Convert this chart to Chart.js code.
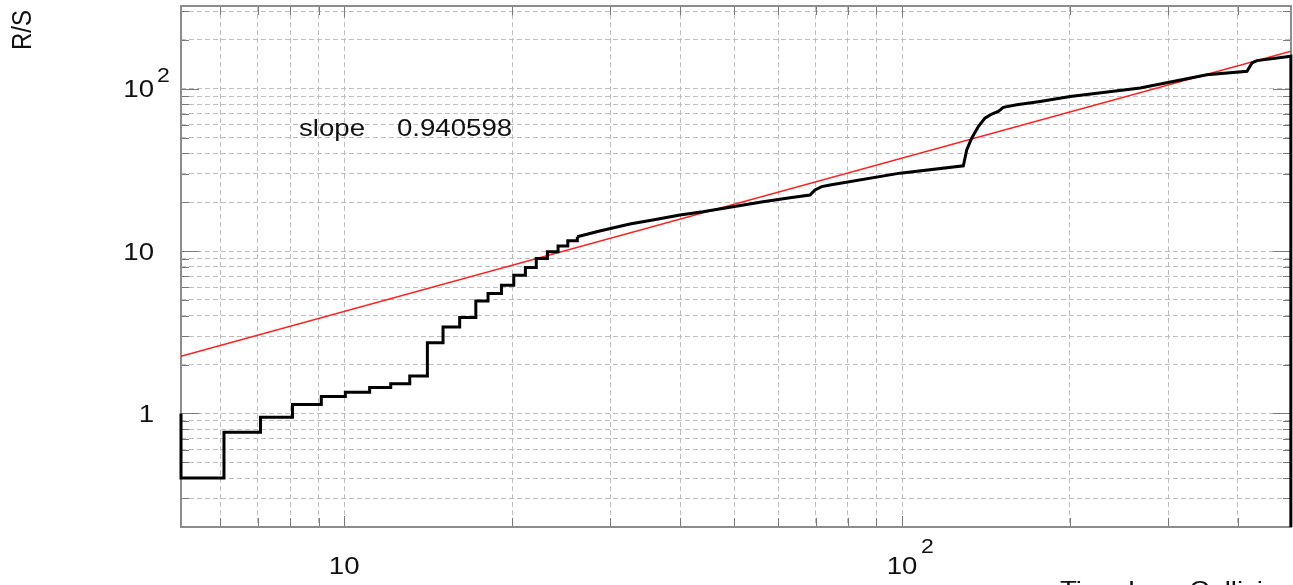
<!DOCTYPE html>
<html>
<head>
<meta charset="utf-8">
<script src="https://cdn.jsdelivr.net/npm/chart.js@4.4.1/dist/chart.umd.min.js"></script>
<style>
  html, body { margin: 0; padding: 0; background: #fff; }
  #wrap { width: 1293px; height: 585px; position: relative; }
</style>
</head>
<body>
<div id="wrap"><canvas id="rs"></canvas></div>
<script>
// R/S escalonado (lags pequeños)
const stepLag = [5.10, 5.10, 6.09, 7.08, 8.08, 9.10, 10.05, 11.11, 12.12, 13.11, 14.1, 15.04, 16.11, 17.22, 18.11, 19.14, 20.14, 21.13, 22.1, 23.14, 24.18, 25.17, 26.18];
const stepRS = [1.0, 0.40, 0.767, 0.949, 1.137, 1.273, 1.353, 1.447, 1.525, 1.70, 2.73, 3.41, 3.90, 4.93, 5.48, 6.17, 7.11, 7.93, 8.99, 9.90, 10.74, 11.57, 12.26];

// R/S continuo (lags grandes)
const curveLag = [26.18, 28.35, 30.15, 32.52, 35.75, 39.98, 43.95, 49.76, 56.33, 62.98, 68.39, 69.82, 71.78, 74.29, 99.2, 128.8, 130.6, 133.3, 137.0, 140.8, 144.8, 148.8, 151.9, 160.6, 176.8, 200.2, 267.3, 352.0, 415.3, 424.0, 432.8, 497.7, 497.7];
const curveRS = [12.26, 13.15, 13.81, 14.68, 15.54, 16.68, 17.48, 18.77, 20.15, 21.33, 22.16, 23.80, 24.94, 25.55, 30.2, 33.5, 42.0, 49.6, 58.5, 65.9, 69.8, 72.4, 76.7, 79.6, 83.5, 89.6, 101.0, 122.0, 127.9, 144.1, 148.9, 158.3, 0.1];

// recta de ajuste
const fitLag = [5.10, 498];
const fitRS = [2.25, 170];
const slopeLabel = 'slope';
const slopeValue = '0.940598';

// ejes
const xTicks = [6, 7, 8, 9, 10, 20, 30, 40, 50, 60, 70, 80, 90, 100, 200, 300, 400];
const yTicks = [0.3, 0.4, 0.5, 0.6, 0.7, 0.8, 0.9, 1, 2, 3, 4, 5, 6, 7, 8, 9, 10, 20, 30, 40, 50, 60, 70, 80, 90, 100, 200, 300];
const xMajor = [10, 100];
const yMajor = [1, 10, 100];
const xLabelVals = [10, 100];
const xLabelBase = ['10', '10'];
const xLabelExp = ['', '2'];
const yLabelVals = [1, 10, 100];
const yLabelBase = ['1', '10', '10'];
const yLabelExp = ['', '', '2'];
const xTitle = 'Time Lag  Collisions';
const yTitle = 'R/S';

const toPts = (xs, ys) => xs.map((x, i) => ({ x: x, y: ys[i] }));

const FONT = '"Liberation Sans", Arial, sans-serif';
const SX = 1.15; // texto algo ensanchado

function drawText(ctx, txt, x, y, align, size, rot) {
  ctx.save();
  ctx.translate(x, y);
  ctx.scale(SX, 1);
  if (rot) ctx.rotate(rot);
  ctx.font = size + 'px ' + FONT;
  ctx.fillStyle = '#111';
  ctx.textAlign = align;
  ctx.textBaseline = 'middle';
  ctx.fillText(txt, 0, 0);
  ctx.restore();
}

// marco, marcas interiores y textos
const framePlugin = {
  id: 'frame',
  beforeDatasetsDraw(chart) {
    const { ctx, chartArea: a, scales } = chart;
    ctx.save();
    ctx.strokeStyle = '#7a7a7a';
    ctx.lineWidth = 1;
    ctx.beginPath();
    xTicks.forEach(v => {
      const px = Math.round(scales.x.getPixelForValue(v)) + 0.5;
      const len = xMajor.includes(v) ? 11 : 9;
      ctx.moveTo(px, a.bottom); ctx.lineTo(px, a.bottom - len);
      ctx.moveTo(px, a.top); ctx.lineTo(px, a.top + len);
    });
    yTicks.forEach(v => {
      const py = Math.round(scales.y.getPixelForValue(v)) + 0.5;
      const len = yMajor.includes(v) ? 18 : 8;
      ctx.moveTo(a.left, py); ctx.lineTo(a.left + len, py);
      ctx.moveTo(a.right, py); ctx.lineTo(a.right - len, py);
    });
    ctx.stroke();
    ctx.strokeStyle = '#8c8c8c';
    ctx.lineWidth = 2;
    ctx.strokeRect(a.left, a.top, a.right - a.left, a.bottom - a.top);
    ctx.restore();
  },
  afterDraw(chart) {
    const { ctx, scales } = chart;
    yLabelVals.forEach((v, i) => {
      const py = scales.y.getPixelForValue(v) + 2;
      drawText(ctx, yLabelBase[i], 154, py, 'right', 24);
      if (yLabelExp[i]) drawText(ctx, yLabelExp[i], 157, py - 14, 'left', 20);
    });
    xLabelVals.forEach((v, i) => {
      const px = scales.x.getPixelForValue(v);
      drawText(ctx, xLabelBase[i], px, 567, 'center', 24);
      if (xLabelExp[i]) drawText(ctx, xLabelExp[i], px + 19, 547, 'left', 20);
    });
    drawText(ctx, yTitle, 23, 30, 'center', 24, -Math.PI / 2);
    drawText(ctx, xTitle, 1060, 591, 'left', 24);
    drawText(ctx, slopeLabel, 299, 129, 'left', 24);
    drawText(ctx, slopeValue, 397, 129, 'left', 24);
  }
};

const gridOpts = { color: '#bdbdbd', lineWidth: 1, drawTicks: false };

new Chart(document.getElementById('rs'), {
  type: 'line',
  data: {
    datasets: [
      {
        label: 'R/S',
        data: toPts(stepLag, stepRS),
        stepped: 'before',
        borderColor: '#000',
        borderWidth: 3,
        pointRadius: 0,
        clip: { left: 3, top: 0, right: 3, bottom: 0 }
      },
      {
        label: 'R/S cont',
        data: toPts(curveLag, curveRS),
        borderColor: '#000',
        borderWidth: 3,
        pointRadius: 0,
        tension: 0,
        clip: { left: 3, top: 0, right: 3, bottom: 0 }
      },
      {
        label: 'ajuste',
        data: toPts(fitLag, fitRS),
        borderColor: '#ff1f1f',
        borderWidth: 1.6,
        pointRadius: 0
      }
    ]
  },
  options: {
    responsive: true,
    maintainAspectRatio: false,
    animation: false,
    layout: { padding: { top: 6, right: 2, left: 0, bottom: 0 } },
    plugins: {
      legend: { display: false },
      tooltip: { enabled: false }
    },
    scales: {
      x: {
        type: 'logarithmic',
        min: 5.1,
        max: 498,
        afterBuildTicks: s => { s.ticks = xTicks.map(v => ({ value: v })); },
        afterFit: s => { s.height = 58; },
        ticks: { display: false },
        grid: gridOpts,
        border: { display: false, dash: [5, 3] }
      },
      y: {
        type: 'logarithmic',
        min: 0.2,
        max: 323,
        afterBuildTicks: s => { s.ticks = yTicks.map(v => ({ value: v })); },
        afterFit: s => { s.width = 181; },
        ticks: { display: false },
        grid: gridOpts,
        border: { display: false, dash: [5, 3] }
      }
    }
  },
  plugins: [framePlugin]
});
</script>
</body>
</html>
